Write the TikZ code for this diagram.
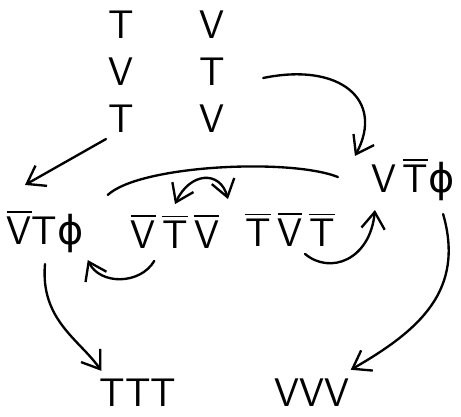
\documentclass[tikz,border=0pt]{standalone}
\usepackage{fontspec}
\newfontfamily\grk{DejaVu Sans}
\usetikzlibrary{arrows.meta}

% a letter with a bar over it
\newcommand{\ovl}[1]{\vbox{\hrule height 1.6pt \kern 3pt \hbox{#1}}}
\newcommand{\phisym}{{\grk ϕ}}

\tikzset{
  word/.style={font=\fontsize{34}{40}\selectfont\sffamily, inner sep=1pt},
  line/.style={line width=2pt, line cap=round},
  barb/.tip={Straight Barb[length=5mm,width=7mm]},
  hand/.style={line, -barb},
}

\begin{document}
\begin{tikzpicture}[x=0.03cm, y=-0.03cm]
    \useasboundingbox (0,0) rectangle (461,416);
    % the two columns on top
    \node[word, align=center] (colT) at (121,72) {T\\V\\T};
    \node[word, align=center] (colV) at (212,72) {V\\T\\V};
    % middle row
    \node[word] (vtphiL) at (45,232) {\ovl{V}T\phisym};
    \node[word] (vtv) at (175,232) {\ovl{V}\,\ovl{T}\,\ovl{V}};
    \node[word] (tvt) at (290,230) {\ovl{T}\,\ovl{V}\,\ovl{T}};
    \node[word] (vtphiR) at (413,180) {V\,\ovl{T}\phisym};
    % bottom row
    \node[word] (ttt) at (138,393) {TTT};
    \node[word] (vvv) at (312,393) {VVV};

    \draw[hand] ([shift={(-15,5)}]colT.south) -- ([shift={(-20,-25)}]vtphiL.north);
    \draw[hand] ([shift={(37,6)}]colV.east) .. controls (340,62) and (385,100) .. ([shift={(-15,-2)}]vtphiR.north west);
    \draw[line] ([shift={(23,-15)}]vtphiL.north east) .. controls (140,165) and (290,158) .. ([shift={(-32,-3)}]vtphiR.west);
    \draw[hand, barb-barb]
        ([shift={(0,-10)}]vtv.north) .. controls (190,172) and (220,170) .. ([shift={(-16,-13)}]tvt.north west);
    \draw[hand] ([shift={(25,11)}]vtv.south west) .. controls (140,285) and (100,285) .. ([shift={(3,6)}]vtphiL.south east);
    \draw[hand] ([shift={(15,6)}]tvt.south) .. controls (330,275) and (370,260) .. ([shift={(5,8)}]vtphiR.south west);
    \draw[hand] ([shift={(0,10)}]vtphiL.south) .. controls (40,320) and (80,340) .. ([shift={(3,-7)}]ttt.north west);
    \draw[hand] ([shift={(-13,12)}]vtphiR.south east) .. controls (465,290) and (420,330) .. ([shift={(0,-8)}]vvv.north east);
\end{tikzpicture}
\end{document}
